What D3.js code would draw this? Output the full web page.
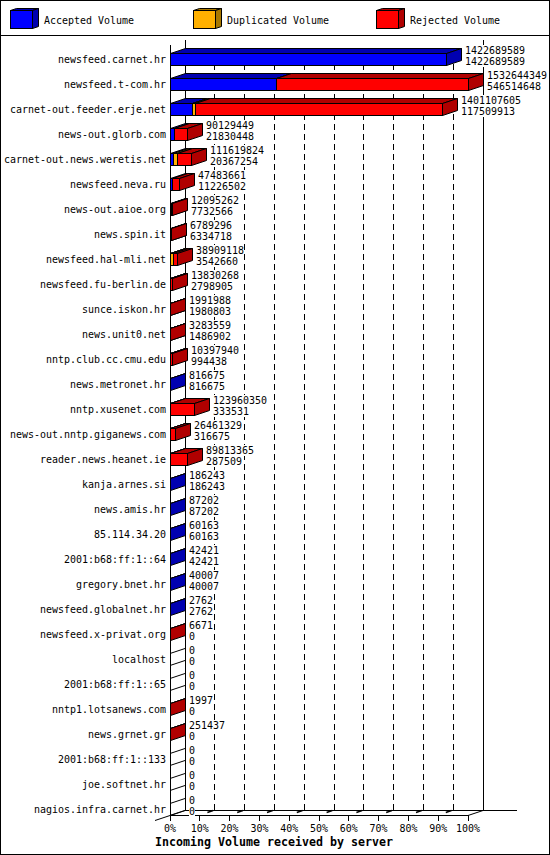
<!DOCTYPE html>
<html>
<head>
<meta charset="utf-8">
<script src="https://cdn.jsdelivr.net/npm/d3@7"></script>
<style>
	html, body { margin: 0; padding: 0; background: #fff; }
	svg { display: block; }
	text { font-family: "DejaVu Sans Mono", monospace; font-size: 11px; fill: #000; }
</style>
</head>
<body>
<svg width="550" height="855"></svg>
<script>
var hosts = ["newsfeed.carnet.hr", "newsfeed.t-com.hr", "carnet-out.feeder.erje.net", "news-out.glorb.com",
	"carnet-out.news.weretis.net", "newsfeed.neva.ru", "news-out.aioe.org", "news.spin.it",
	"newsfeed.hal-mli.net", "newsfeed.fu-berlin.de", "sunce.iskon.hr", "news.unit0.net",
	"nntp.club.cc.cmu.edu", "news.metronet.hr", "nntp.xusenet.com", "news-out.nntp.giganews.com",
	"reader.news.heanet.ie", "kanja.arnes.si", "news.amis.hr", "85.114.34.20",
	"2001:b68:ff:1::64", "gregory.bnet.hr", "newsfeed.globalnet.hr", "newsfeed.x-privat.org",
	"localhost", "2001:b68:ff:1::65", "nntp1.lotsanews.com", "news.grnet.gr",
	"2001:b68:ff:1::133", "joe.softnet.hr", "nagios.infra.carnet.hr"];
var offered = [1422689589, 1532644349, 1401107605, 90129449, 111619824, 47483661, 12095262, 6789296,
	38909118, 13830268, 1991988, 3283559, 10397940, 816675, 123960350, 26461329,
	89813365, 186243, 87202, 60163, 42421, 40007, 2762, 6671,
	0, 0, 1997, 251437, 0, 0, 0];
var accepted = [1422689589, 546514648, 117509913, 21830448, 20367254, 11226502, 7732566, 6334718,
	3542660, 2798905, 1980803, 1486902, 994438, 816675, 333531, 316675,
	287509, 186243, 87202, 60163, 42421, 40007, 2762, 0,
	0, 0, 0, 0, 0, 0, 0];
// estimated from the width of the orange segments
var duplicated = [0, 0, 14000000, 0, 19000000, 0, 0, 0,
	14000000, 0, 0, 0, 0, 0, 0, 0,
	0, 0, 0, 0, 0, 0, 0, 0,
	0, 0, 0, 0, 0, 0, 0];
var percentTicks = [0, 10, 20, 30, 40, 50, 60, 70, 80, 90, 100];
var legendNames = ["Accepted Volume", "Duplicated Volume", "Rejected Volume"];
var xTitle = "Incoming Volume received by server";

var colors = [
	{front: "#0000ff", dark: "#0000b0"},
	{front: "#ffb000", dark: "#a87800"},
	{front: "#ff0000", dark: "#b00000"}
];

var depthX = 15, depthY = 5;
var svg = d3.select("svg");
var x = d3.scaleLinear().domain([0, d3.max(offered)]).range([170, 468]);
var pct = d3.scaleLinear().domain([0, 100]).range([170, 468]);
var y = d3.scalePoint().domain(hosts).range([59, 809]);

function px(v) { return Math.floor(v) + 0.5; }

function line(g, x1, y1, x2, y2) {
	return g.append("line")
		.attr("x1", x1).attr("y1", y1)
		.attr("x2", x2).attr("y2", y2)
		.attr("stroke", "#000")
		.attr("stroke-width", 1);
}

// the original font is a narrow fixed cell, so squeeze the glyphs into it
function cell(sel, w) {
	return sel
		.attr("lengthAdjust", "spacingAndGlyphs")
		.attr("textLength", function() { return this.textContent.length * w; });
}

// frame and legend strip
svg.append("rect")
	.attr("x", 0.5).attr("y", 0.5)
	.attr("width", 549).attr("height", 854)
	.attr("fill", "#fff").attr("stroke", "#000");
line(svg, 0, 35.5, 550, 35.5);

var legendX = [10, 193, 376];
var legend = svg.selectAll(".legend")
	.data(legendNames)
	.enter().append("g")
	.attr("class", "legend")
	.attr("transform", function(d, i) { return "translate(" + legendX[i] + ",0)"; });
legend.append("path")
	.attr("d", "M0.5,10.5 L6.5,8.5 L28.5,8.5 L22.5,10.5 Z")
	.attr("fill", function(d, i) { return colors[i].dark; })
	.attr("stroke", "#000");
legend.append("path")
	.attr("d", "M22.5,10.5 L28.5,8.5 L28.5,26.5 L22.5,28.5 Z")
	.attr("fill", function(d, i) { return colors[i].dark; })
	.attr("stroke", "#000");
legend.append("rect")
	.attr("x", 0.5).attr("y", 10.5)
	.attr("width", 22).attr("height", 18)
	.attr("fill", function(d, i) { return colors[i].front; })
	.attr("stroke", "#000");
cell(legend.append("text")
	.attr("x", 34).attr("y", 24)
	.text(function(d) { return d; }), 6);

// back wall, floor and grid
var grid = svg.append("g");
grid.selectAll(".grid")
	.data(percentTicks.slice(1, -1))
	.enter().append("line")
	.attr("class", "grid")
	.attr("x1", function(d) { return px(pct(d) + depthX); })
	.attr("x2", function(d) { return px(pct(d) + depthX); })
	.attr("y1", 810).attr("y2", 48)
	.attr("stroke", "#000")
	.attr("stroke-dasharray", "6,4");
grid.selectAll(".floorTick")
	.data(percentTicks.slice(1, -1))
	.enter().append("line")
	.attr("class", "floorTick")
	.attr("x1", function(d) { return pct(d); })
	.attr("x2", function(d) { return pct(d) + depthX; })
	.attr("y1", 815).attr("y2", 810)
	.attr("stroke", "#000")
	.attr("stroke-width", 1.5)
	.attr("stroke-dasharray", "0,8,6,2");
line(grid, px(pct(0)), 45, px(pct(0)), 815);
line(grid, px(pct(0) + depthX), 40, px(pct(0) + depthX), 810);
line(grid, px(pct(100) + depthX), 40, px(pct(100) + depthX), 810);
line(grid, 155, 820.5, 185, 810.5);
line(grid, 185, 810.5, 517, 810.5);
line(grid, 170, 815.5, 468, 815.5);
line(grid, 468, 815.5, 483, 810.5);

// bars, one row at a time
var bars = svg.append("g");
hosts.forEach(function(host, i) {
	var top = y(host) - 6, bottom = y(host) + 6;
	var rejected = offered[i] - accepted[i] - duplicated[i];
	var parts = [accepted[i], duplicated[i], rejected];
	var start = 0;
	var row = bars.append("g");
	var any = false;
	parts.forEach(function(v, k) {
		if (v <= 0) return;
		any = true;
		var x0 = Math.floor(x(start)), x1 = Math.floor(x(start + v));
		start += v;
		row.append("path")
			.attr("d", "M" + (x0 + 0.5) + "," + (top + 0.5) + " L" + (x0 + depthX + 0.5) + "," + (top - depthY + 0.5) +
				" L" + (x1 + depthX + 0.5) + "," + (top - depthY + 0.5) + " L" + (x1 + 0.5) + "," + (top + 0.5) + " Z")
			.attr("fill", colors[k].dark)
			.attr("stroke", "#000");
		row.append("path")
			.attr("d", "M" + (x1 + 0.5) + "," + (top + 0.5) + " L" + (x1 + depthX + 0.5) + "," + (top - depthY + 0.5) +
				" L" + (x1 + depthX + 0.5) + "," + (bottom - depthY + 0.5) + " L" + (x1 + 0.5) + "," + (bottom + 0.5) + " Z")
			.attr("fill", colors[k].dark)
			.attr("stroke", "#000");
		row.append("rect")
			.attr("x", x0 + 0.5).attr("y", top + 0.5)
			.attr("width", x1 - x0).attr("height", bottom - top)
			.attr("fill", colors[k].front)
			.attr("stroke", "#000");
	});
	if (!any) {
		line(row, pct(0), top + 0.5, pct(0) + depthX, top - depthY + 0.5);
		line(row, pct(0), bottom + 0.5, pct(0) + depthX, bottom - depthY + 0.5);
	}
});

// host names and the two numbers of each row
cell(svg.selectAll(".host")
	.data(hosts)
	.enter().append("text")
	.attr("class", "host")
	.attr("x", 166)
	.attr("y", function(d) { return y(d) + 4; })
	.attr("text-anchor", "end")
	.text(function(d) { return d; }), 6);

// numbers sit on white boxes which hide the grid behind them
function numbers(name, values, dy) {
	var g = svg.selectAll("." + name)
		.data(hosts)
		.enter().append("g")
		.attr("class", name);
	g.append("rect")
		.attr("x", function(d, i) { return Math.floor(x(offered[i])) + 19; })
		.attr("y", function(d) { return y(d) + dy - 9; })
		.attr("width", function(d, i) { return String(values[i]).length * 6; })
		.attr("height", 11)
		.attr("fill", "#fff");
	cell(g.append("text")
		.attr("x", function(d, i) { return Math.floor(x(offered[i])) + 19; })
		.attr("y", function(d) { return y(d) + dy; })
		.text(function(d, i) { return values[i]; }), 6);
}
numbers("total", offered, -5);
numbers("acc", accepted, 6);

// x axis
var axis = svg.append("g");
axis.selectAll(".tick")
	.data(percentTicks)
	.enter().append("line")
	.attr("class", "tick")
	.attr("x1", function(d) { return px(pct(d)); })
	.attr("x2", function(d) { return px(pct(d)); })
	.attr("y1", 815).attr("y2", 821)
	.attr("stroke", "#000");
cell(axis.selectAll(".pct")
	.data(percentTicks)
	.enter().append("text")
	.attr("class", "pct")
	.attr("x", function(d) { return pct(d); })
	.attr("y", 832)
	.attr("text-anchor", "middle")
	.text(function(d) { return d + "%"; }), 6);
cell(svg.append("text")
	.attr("x", 274).attr("y", 846)
	.attr("text-anchor", "middle")
	.style("font-size", "12.5px")
	.style("font-weight", "bold")
	.text(xTitle), 7);
</script>
</body>
</html>
